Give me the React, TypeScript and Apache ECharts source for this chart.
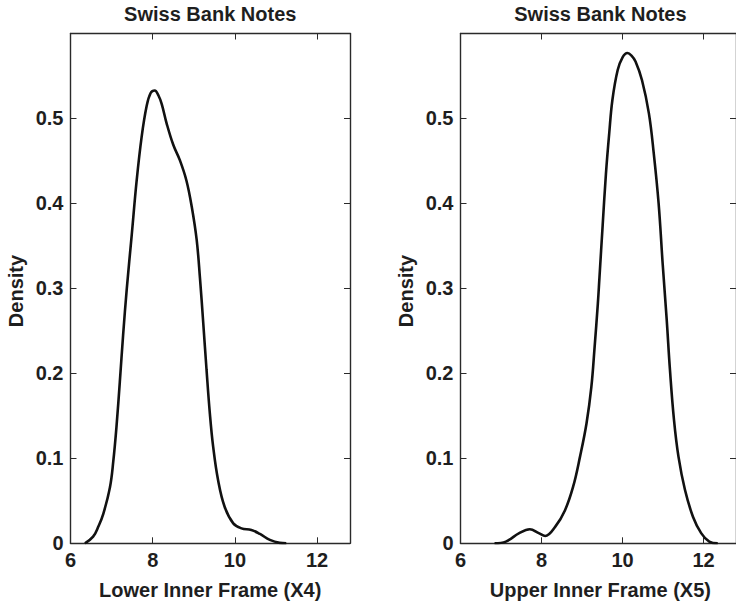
import React, { useEffect, useRef } from "react";
import * as echarts from "echarts";

const titleText = "Swiss Bank Notes";
const yLabel = "Density";
const leftXLabel = "Lower Inner Frame (X4)";
const rightXLabel = "Upper Inner Frame (X5)";

const leftX = [6.35, 6.55, 6.68, 6.8, 6.96, 7.04, 7.12, 7.2, 7.28, 7.37, 7.49, 7.61, 7.73, 7.85, 7.95, 8.05, 8.14, 8.22, 8.34, 8.5, 8.66, 8.82, 8.95, 9.07, 9.15, 9.23, 9.31, 9.39, 9.47, 9.59, 9.75, 9.96, 10.16, 10.4, 10.61, 10.85, 11.09, 11.25];
const leftY = [0, 0.0078, 0.02, 0.035, 0.066, 0.096, 0.138, 0.19, 0.245, 0.3, 0.363, 0.427, 0.478, 0.514, 0.53, 0.533, 0.527, 0.517, 0.494, 0.469, 0.451, 0.427, 0.396, 0.357, 0.312, 0.259, 0.204, 0.153, 0.114, 0.0745, 0.043, 0.0235, 0.0176, 0.0156, 0.011, 0.004, 0.0005, 0];

const rightX = [6.84, 7.12, 7.45, 7.71, 7.93, 8.09, 8.34, 8.58, 8.78, 8.95, 9.11, 9.23, 9.31, 9.39, 9.43, 9.51, 9.59, 9.67, 9.75, 9.88, 10.0, 10.12, 10.22, 10.32, 10.48, 10.65, 10.77, 10.89, 10.99, 11.09, 11.17, 11.27, 11.38, 11.54, 11.74, 11.94, 12.14, 12.35];
const rightY = [0, 0.002, 0.012, 0.0165, 0.012, 0.0086, 0.0196, 0.039, 0.0666, 0.102, 0.141, 0.184, 0.231, 0.282, 0.313, 0.375, 0.435, 0.482, 0.522, 0.557, 0.572, 0.577, 0.574, 0.567, 0.545, 0.506, 0.459, 0.4, 0.329, 0.263, 0.204, 0.145, 0.102, 0.063, 0.031, 0.012, 0.002, 0];

const xTicks = { min: 6, max: 12.8, interval: 2 };
const yTicks = { min: 0, max: 0.6, interval: 0.1 };

const FONT = "'Liberation Sans', Arial, Helvetica, sans-serif";
const AXIS_COLOR = "#2a2a2a";
const TEXT_COLOR = "#1e1e1e";

export default function App() {
  const ref = useRef<HTMLDivElement>(null);
  useEffect(() => {
    if (!ref.current) return;
    const chart = echarts.init(ref.current, undefined, { renderer: "svg" });

    const grids = [
      { left: 70.5, right: 386, top: 33.5, bottom: 60.7 },
      { left: 460.5, right: -4.3, top: 33.5, bottom: 60.7 },
    ];

    const axisLine = { show: true, onZero: false, lineStyle: { color: AXIS_COLOR, width: 1.4 } };
    const axisTick = { show: true, inside: true, length: 6, lineStyle: { color: AXIS_COLOR, width: 1 } };
    const labelStyle = { color: TEXT_COLOR, fontFamily: FONT, fontWeight: "bold" as const, fontSize: 20 };

    const xFmt = (v: number) => {
      const r = Math.round(v);
      return Math.abs(v - r) < 1e-6 && r % 2 === 0 ? String(r) : "";
    };
    const yFmt = (v: number) => (v > 0.55 ? "" : String(+v.toFixed(1)));

    const xAxes: any[] = [];
    const yAxes: any[] = [];
    [0, 1].forEach((g) => {
      xAxes.push({
        type: "value", gridIndex: g, position: "bottom", ...xTicks,
        axisLine, axisTick, splitLine: { show: false },
        axisLabel: { ...labelStyle, margin: 7, formatter: xFmt, showMaxLabel: false },
      });
      xAxes.push({
        type: "value", gridIndex: g, position: "top", ...xTicks,
        axisLine, axisTick, splitLine: { show: false }, axisLabel: { show: false },
      });
      yAxes.push({
        type: "value", gridIndex: g, position: "left", ...yTicks,
        axisLine, axisTick, splitLine: { show: false },
        axisLabel: { ...labelStyle, margin: 7, formatter: yFmt },
      });
      yAxes.push({
        type: "value", gridIndex: g, position: "right", ...yTicks,
        axisLine, axisTick, splitLine: { show: false }, axisLabel: { show: false },
      });
    });

    const textStyle = (text: string) => ({
      text, fill: TEXT_COLOR, font: `bold 20px ${FONT}`, textAlign: "center", textVerticalAlign: "middle",
    });

    const centers = [(70.5 + 350) / 2, (460.5 + 740.3) / 2];
    const graphic: any[] = [];
    centers.forEach((cx, i) => {
      graphic.push({ type: "text", x: cx, y: 14, style: textStyle(titleText), silent: true });
      graphic.push({ type: "text", x: cx, y: 590, style: textStyle(i === 0 ? leftXLabel : rightXLabel), silent: true });
    });
    [16, 406].forEach((x) => {
      graphic.push({ type: "text", x, y: 291, rotation: Math.PI / 2, style: textStyle(yLabel), silent: true });
    });

    const mk = (xs: number[], ys: number[], xi: number, yi: number) => ({
      type: "line", xAxisIndex: xi, yAxisIndex: yi,
      data: xs.map((x, i) => [x, ys[i]]),
      smooth: 0.4, showSymbol: false, symbol: "none",
      lineStyle: { color: "#111", width: 2.6 },
    });

    chart.setOption({
      animation: false,
      grid: grids,
      xAxis: xAxes,
      yAxis: yAxes,
      graphic,
      series: [mk(leftX, leftY, 0, 0), mk(rightX, rightY, 2, 2)],
    });
    return () => chart.dispose();
  }, []);
  return <div ref={ref} style={{ position: "absolute", left: 0, top: 0, width: 736, height: 604, background: "#fff" }} />;
}
